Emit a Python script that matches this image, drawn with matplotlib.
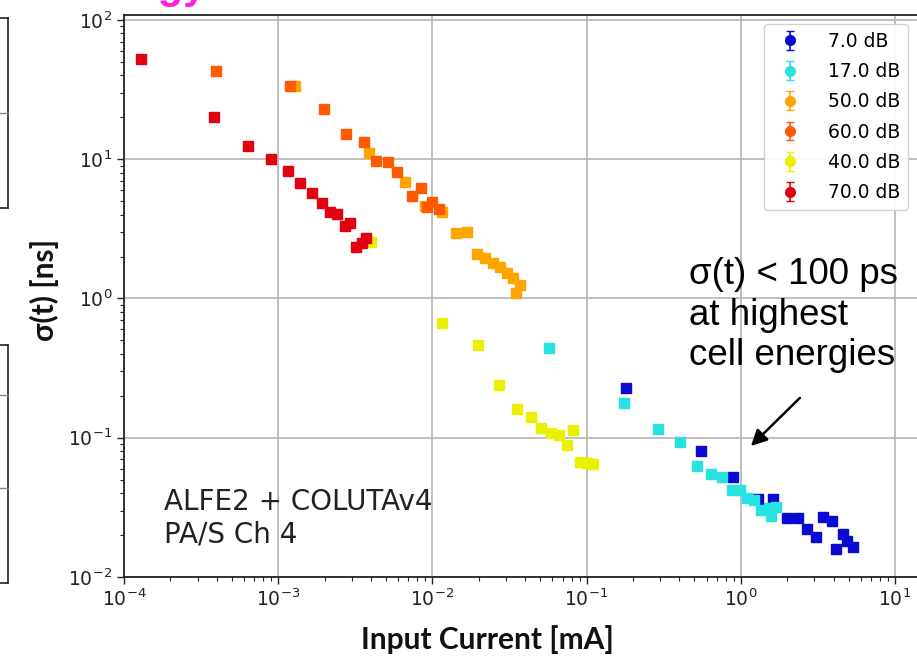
import numpy as np
import matplotlib
matplotlib.use("Agg")
import matplotlib.pyplot as plt
from matplotlib.lines import Line2D
from matplotlib.container import ErrorbarContainer
from matplotlib.legend_handler import HandlerErrorbar

# series (x = input current [mA], y = sigma(t) [ns])
labels = ["7.0 dB", "17.0 dB", "50.0 dB", "60.0 dB", "40.0 dB", "70.0 dB"]
colors = ["#0a0ad2", "#28e2e2", "#ffa500", "#ff5a00", "#eaf000", "#e30010"]

x_7 = [0.180, 0.549, 0.894, 1.29, 1.63, 2.0, 2.36, 2.70, 3.08, 3.43, 3.88, 4.14, 4.58, 4.90, 5.31]
y_7 = [0.229, 0.0803, 0.0525, 0.0361, 0.0361, 0.0267, 0.0267, 0.0220, 0.0193, 0.0271, 0.0252,
       0.0159, 0.0204, 0.0182, 0.0163]

x_17 = [0.0573, 0.175, 0.289, 0.403, 0.517, 0.638, 0.759, 0.873, 0.989, 1.09, 1.21, 1.35, 1.53,
        1.58, 1.69]
y_17 = [0.438, 0.177, 0.116, 0.0938, 0.063, 0.0547, 0.0525, 0.0422, 0.0422, 0.0367, 0.0357,
        0.0303, 0.0311, 0.0276, 0.0317]

x_50 = [1.29e-3, 3.86e-3, 6.64e-3, 9.0e-3, 1.15e-2, 1.42e-2, 1.68e-2, 1.94e-2, 2.19e-2, 2.46e-2,
        2.74e-2, 3.03e-2, 3.31e-2, 3.48e-2, 3.70e-2]
y_50 = [33.7, 11.1, 6.9, 4.6, 4.2, 2.94, 2.98, 2.09, 1.95, 1.81, 1.69, 1.53, 1.40, 1.09, 1.24]

x_60 = [3.93e-4, 1.19e-3, 1.98e-3, 2.75e-3, 3.58e-3, 4.33e-3, 5.18e-3, 5.86e-3, 7.4e-3, 8.4e-3,
        9.18e-3, 1.0e-2, 1.11e-2]
y_60 = [43.3, 33.7, 23.0, 15.3, 13.2, 9.77, 9.5, 8.15, 5.47, 6.25, 4.52, 4.96, 4.37]

x_40 = [3.98e-3, 1.16e-2, 1.97e-2, 2.72e-2, 3.52e-2, 4.34e-2, 5.04e-2, 5.88e-2, 6.65e-2, 7.43e-2,
        8.13e-2, 9.06e-2, 0.100, 0.110]
y_40 = [2.56, 0.664, 0.463, 0.239, 0.160, 0.142, 0.117, 0.109, 0.105, 0.0887, 0.114, 0.0667,
        0.0655, 0.0647]

x_70 = [1.28e-4, 3.86e-4, 6.34e-4, 9.0e-4, 1.15e-3, 1.39e-3, 1.65e-3, 1.92e-3, 2.17e-3, 2.4e-3,
        2.71e-3, 2.92e-3, 3.2e-3, 3.47e-3, 3.71e-3]
y_70 = [52.3, 20.2, 12.5, 10.0, 8.2, 6.8, 5.75, 4.88, 4.2, 4.05, 3.32, 3.5, 2.36, 2.49, 2.7]

xs = [x_7, x_17, x_50, x_60, x_40, x_70]
ys = [y_7, y_17, y_50, y_60, y_40, y_70]

fig = plt.figure(figsize=(9.17, 6.64), dpi=100)
ax = fig.add_axes([124 / 917, 1 - 577 / 664, 1 - 124 / 917, (577 - 15) / 664])

for x, y, c, lab in zip(xs, ys, colors, labels):
    ax.errorbar(x, y, yerr=np.zeros(len(y)), fmt="s", color=c, ms=7, capsize=3,
                elinewidth=1.2, label=lab)

ax.set_xscale("log")
ax.set_yscale("log")
ax.set_xlim(1e-4, 13.9)
ax.set_ylim(1e-2, 108.6)
ax.grid(True, which="major", color="#b4b4b4", lw=1.2)
ax.set_axisbelow(True)
ax.spines["right"].set_visible(False)
for s in ["left", "bottom", "top"]:
    ax.spines[s].set_linewidth(1.3)
    ax.spines[s].set_color("#222222")
ax.tick_params(which="major", labelsize=13.5, length=5, width=1, colors="#222222")
ax.tick_params(which="minor", length=3, width=0.8, colors="#222222")


def round_marker(handle, orig):
    handle.update_from(orig)
    if isinstance(handle, Line2D) and orig.get_marker() == "s":
        handle.set_marker("o")


ax.legend(loc="upper right", fontsize=13.5, framealpha=0.9, edgecolor="#cccccc",
          borderaxespad=0.5, handletextpad=1.0, labelspacing=0.6,
          handler_map={ErrorbarContainer: HandlerErrorbar(update_func=round_marker)})

ax.text(1.82e-4, 0.0161, "ALFE2 + COLUTAv4\nPA/S Ch 4", fontsize=20, color="#222222",
        va="bottom", ha="left")

ax.text(0.46, 1.97, "\u03c3(t) < 100 ps\nat highest\ncell energies", fontsize=26.5,
        family="Liberation Sans", va="top", ha="left", color="black")
ax.annotate("", xy=(1.13, 0.0845), xytext=(2.49, 0.1995),
            arrowprops=dict(arrowstyle="-|>", color="black", lw=1.8, mutation_scale=24))

fig.text(487 / 917, 1 - 640 / 664, "Input Current [mA]", fontsize=21.5, fontweight="bold",
         family="Lato", ha="center", va="center", color="#111111")
fig.text(44 / 917, 1 - 290 / 664, "\u03c3(t) [ns]", fontsize=21.5, fontweight="bold",
         family="Lato", ha="center", va="center", rotation=90, color="#111111")

# fragments of neighbouring slide content
fig.text(207 / 917, 1 + 2 / 664, "Energy", fontsize=30, fontweight="bold",
         family="Liberation Sans", color="#ff22dd", ha="right", va="baseline")
for y0, y1, marks in [(18, 208, [113]), (345, 583, [395, 488])]:
    fig.add_artist(Line2D([8 / 917, 8 / 917], [1 - y0 / 664, 1 - y1 / 664], color="#222222", lw=1.2))
    fig.add_artist(Line2D([0, 8 / 917], [1 - y0 / 664, 1 - y0 / 664], color="#222222", lw=1.2))
    fig.add_artist(Line2D([0, 8 / 917], [1 - y1 / 664, 1 - y1 / 664], color="#222222", lw=1.2))
    for m in marks:
        fig.add_artist(Line2D([0, 8 / 917], [1 - m / 664, 1 - m / 664], color="#888888", lw=1))

fig.savefig("out.png", dpi=100)
